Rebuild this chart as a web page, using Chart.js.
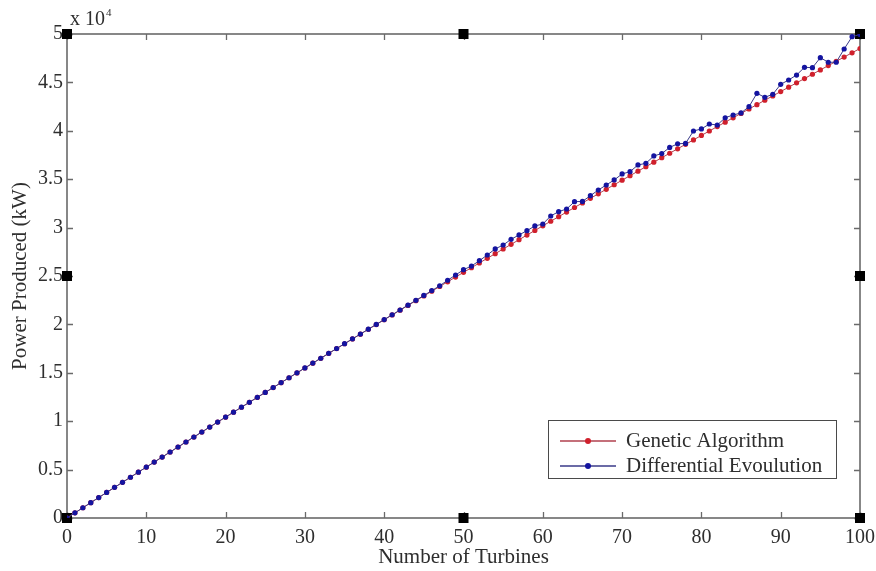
<!DOCTYPE html>
<html><head><meta charset="utf-8">
<script src="https://cdn.jsdelivr.net/npm/chart.js@4.4.1/dist/chart.umd.min.js"></script>
<style>html,body{margin:0;padding:0;background:#fff;}</style>
</head><body>
<canvas id="c" width="876" height="571"></canvas>
<script>
const turbines = [0,1,2,3,4,5,6,7,8,9,10,11,12,13,14,15,16,17,18,19,20,21,22,23,24,25,26,27,28,29,30,31,32,33,34,35,36,37,38,39,40,41,42,43,44,45,46,47,48,49,50,51,52,53,54,55,56,57,58,59,60,61,62,63,64,65,66,67,68,69,70,71,72,73,74,75,76,77,78,79,80,81,82,83,84,85,86,87,88,89,90,91,92,93,94,95,96,97,98,99,100];
const geneticAlgorithm = [
0,530,1058,1586,2113,2639,3164,3688,4211,4734,
5255,5776,6295,6814,7332,7849,8365,8880,9394,9908,
10420,10932,11442,11952,12461,12969,13476,13982,14487,14992,
15495,15998,16499,17000,17500,17999,18497,18994,19490,19986,
20480,20974,21466,21958,22449,22939,23428,23916,24403,24890,
25375,25860,26343,26826,27308,27789,28269,28748,29226,29704,
30180,30656,31130,31604,32077,32549,33020,33490,33959,34428,
34895,35362,35827,36292,36756,37219,37681,38142,38602,39062,
39520,39978,40434,40890,41345,41799,42252,42704,43155,43606,
44055,44504,44951,45398,45844,46289,46733,47176,47618,48060,
48500];
const differentialEvolution = [
0,530,1060,1586,2115,2640,3166,3690,4212,4736,
5258,5778,6298,6816,7335,7851,8368,8882,9397,9911,
10423,10935,11446,11955,12465,12972,13480,13986,14491,14997,
15500,16004,16505,17007,17508,18005,18507,19004,19505,20001,
20500,20995,21490,21990,22490,22990,23490,23990,24560,25100,
25650,26030,26580,27170,27800,28200,28790,29240,29680,30170,
30370,31200,31650,31920,32680,32700,33300,33880,34400,34920,
35540,35780,36470,36640,37400,37650,38280,38660,38700,39980,
40190,40700,40600,41350,41630,41850,42490,43870,43460,43770,
44800,45250,45760,46560,46520,47550,47080,47080,48450,49720,
49950];
const xTicks = [0,10,20,30,40,50,60,70,80,90,100];
const yTicks = [0,5000,10000,15000,20000,25000,30000,35000,40000,45000,50000];
const seriesNames = ['Genetic Algorithm','Differential Evoulution'];
const xTitle = 'Number of Turbines';
const yTitle = 'Power Produced (kW)';

const FONT = 'Liberation Serif';
const TXT = '#2e2e2e';
const AXC = '#6a6a6a';

const decor = {
  id: 'decor',
  beforeDatasetsDraw(chart) {
    const {ctx, chartArea: a, scales: {x, y}} = chart;
    ctx.save();
    ctx.strokeStyle = AXC; ctx.lineWidth = 1.6;
    ctx.strokeRect(a.left, a.top, a.right - a.left, a.bottom - a.top);
    ctx.lineWidth = 1.3;
    ctx.beginPath();
    xTicks.forEach(v => {
      const px = Math.round(x.getPixelForValue(v)) + 0.5;
      ctx.moveTo(px, a.bottom); ctx.lineTo(px, a.bottom - 6);
      ctx.moveTo(px, a.top); ctx.lineTo(px, a.top + 6);
    });
    yTicks.forEach(v => {
      const py = Math.round(y.getPixelForValue(v)) + 0.5;
      ctx.moveTo(a.left, py); ctx.lineTo(a.left + 6, py);
      ctx.moveTo(a.right, py); ctx.lineTo(a.right - 6, py);
    });
    ctx.stroke();
    ctx.fillStyle = '#000';
    const xs = [x.getPixelForValue(0), x.getPixelForValue(50), x.getPixelForValue(100)];
    const ys = [y.getPixelForValue(0), y.getPixelForValue(25000), y.getPixelForValue(50000)];
    for (let i = 0; i < 3; i++) for (let j = 0; j < 3; j++) {
      if (i === 1 && j === 1) continue;
      ctx.fillRect(xs[i] - 5, ys[j] - 5, 10, 10);
    }
    ctx.restore();
  },
  afterDraw(chart) {
    const {ctx, chartArea: a} = chart;
    ctx.save();
    ctx.fillStyle = TXT;
    ctx.font = '20px "' + FONT + '"';
    ctx.textBaseline = 'alphabetic';
    ctx.fillText('x 10', a.left + 3, a.top - 9);
    const w = ctx.measureText('x 10').width;
    ctx.font = '11px "' + FONT + '"';
    ctx.fillText('4', a.left + 3 + w + 1, a.top - 18);
    const lx = a.right - 312, ly = a.bottom - 98, lw = 288, lh = 58;
    ctx.fillStyle = '#fff';
    ctx.fillRect(lx, ly, lw, lh);
    ctx.strokeStyle = '#4a4a4a'; ctx.lineWidth = 1;
    ctx.strokeRect(lx + 0.5, ly + 0.5, lw, lh);
    chart.data.datasets.slice().sort((p, q) => p.legendIndex - q.legendIndex).forEach((ds, i) => {
      const yy = ly + 21 + i * 25;
      ctx.strokeStyle = ds.borderColor; ctx.lineWidth = 1.6;
      ctx.beginPath(); ctx.moveTo(lx + 12, yy); ctx.lineTo(lx + 68, yy); ctx.stroke();
      ctx.fillStyle = ds.pointBackgroundColor;
      ctx.beginPath(); ctx.arc(lx + 40, yy, 3, 0, Math.PI * 2); ctx.fill();
      ctx.fillStyle = TXT;
      ctx.font = '21px "' + FONT + '"';
      ctx.textBaseline = 'middle';
      ctx.fillText(ds.label, lx + 78, yy);
    });
    ctx.restore();
  }
};

new Chart(document.getElementById('c'), {
  type: 'line',
  data: {
    datasets: [
      {
        label: seriesNames[0], legendIndex: 0, order: 2,
        data: turbines.map((t, i) => ({x: t, y: geneticAlgorithm[i]})),
        borderColor: '#b0404e', borderWidth: 1,
        pointBackgroundColor: '#d0202c', pointBorderColor: '#d0202c',
        pointRadius: 2.6, pointBorderWidth: 0, tension: 0
      },
      {
        label: seriesNames[1], legendIndex: 1, order: 1,
        data: turbines.map((t, i) => ({x: t, y: differentialEvolution[i]})),
        borderColor: '#3a3a88', borderWidth: 1,
        pointBackgroundColor: '#1414a0', pointBorderColor: '#1414a0',
        pointRadius: 2.6, pointBorderWidth: 0, tension: 0
      }
    ]
  },
  options: {
    responsive: false,
    animation: false,
    devicePixelRatio: 1,
    layout: {padding: {top: 34, right: 16, left: 0, bottom: 0}},
    plugins: {legend: {display: false}, tooltip: {enabled: false}},
    scales: {
      x: {
        type: 'linear', min: 0, max: 100,
        afterBuildTicks: s => { s.ticks = xTicks.map(v => ({value: v})); },
        afterFit: s => { s.height = 53; s.paddingLeft = 0; s.paddingRight = 0; },
        grid: {display: false, drawTicks: false},
        border: {display: false},
        ticks: {padding: 8, color: TXT, autoSkip: false, maxRotation: 0,
                font: {family: FONT, size: 20}},
        title: {display: true, text: xTitle, color: TXT,
                font: {family: FONT, size: 21}, padding: {top: 0, bottom: 1}}
      },
      y: {
        type: 'linear', min: 0, max: 50000,
        afterBuildTicks: s => { s.ticks = yTicks.map(v => ({value: v})); },
        afterFit: s => { s.width = 67; s.paddingTop = 0; s.paddingBottom = 0; },
        grid: {display: false, drawTicks: false},
        border: {display: false},
        ticks: {padding: 4, color: TXT, font: {family: FONT, size: 20},
                callback: v => String(v / 10000)},
        title: {display: true, text: yTitle, color: TXT,
                font: {family: FONT, size: 21}, padding: {top: 8, bottom: 0}}
      }
    }
  },
  plugins: [decor]
});
</script>
</body></html>
